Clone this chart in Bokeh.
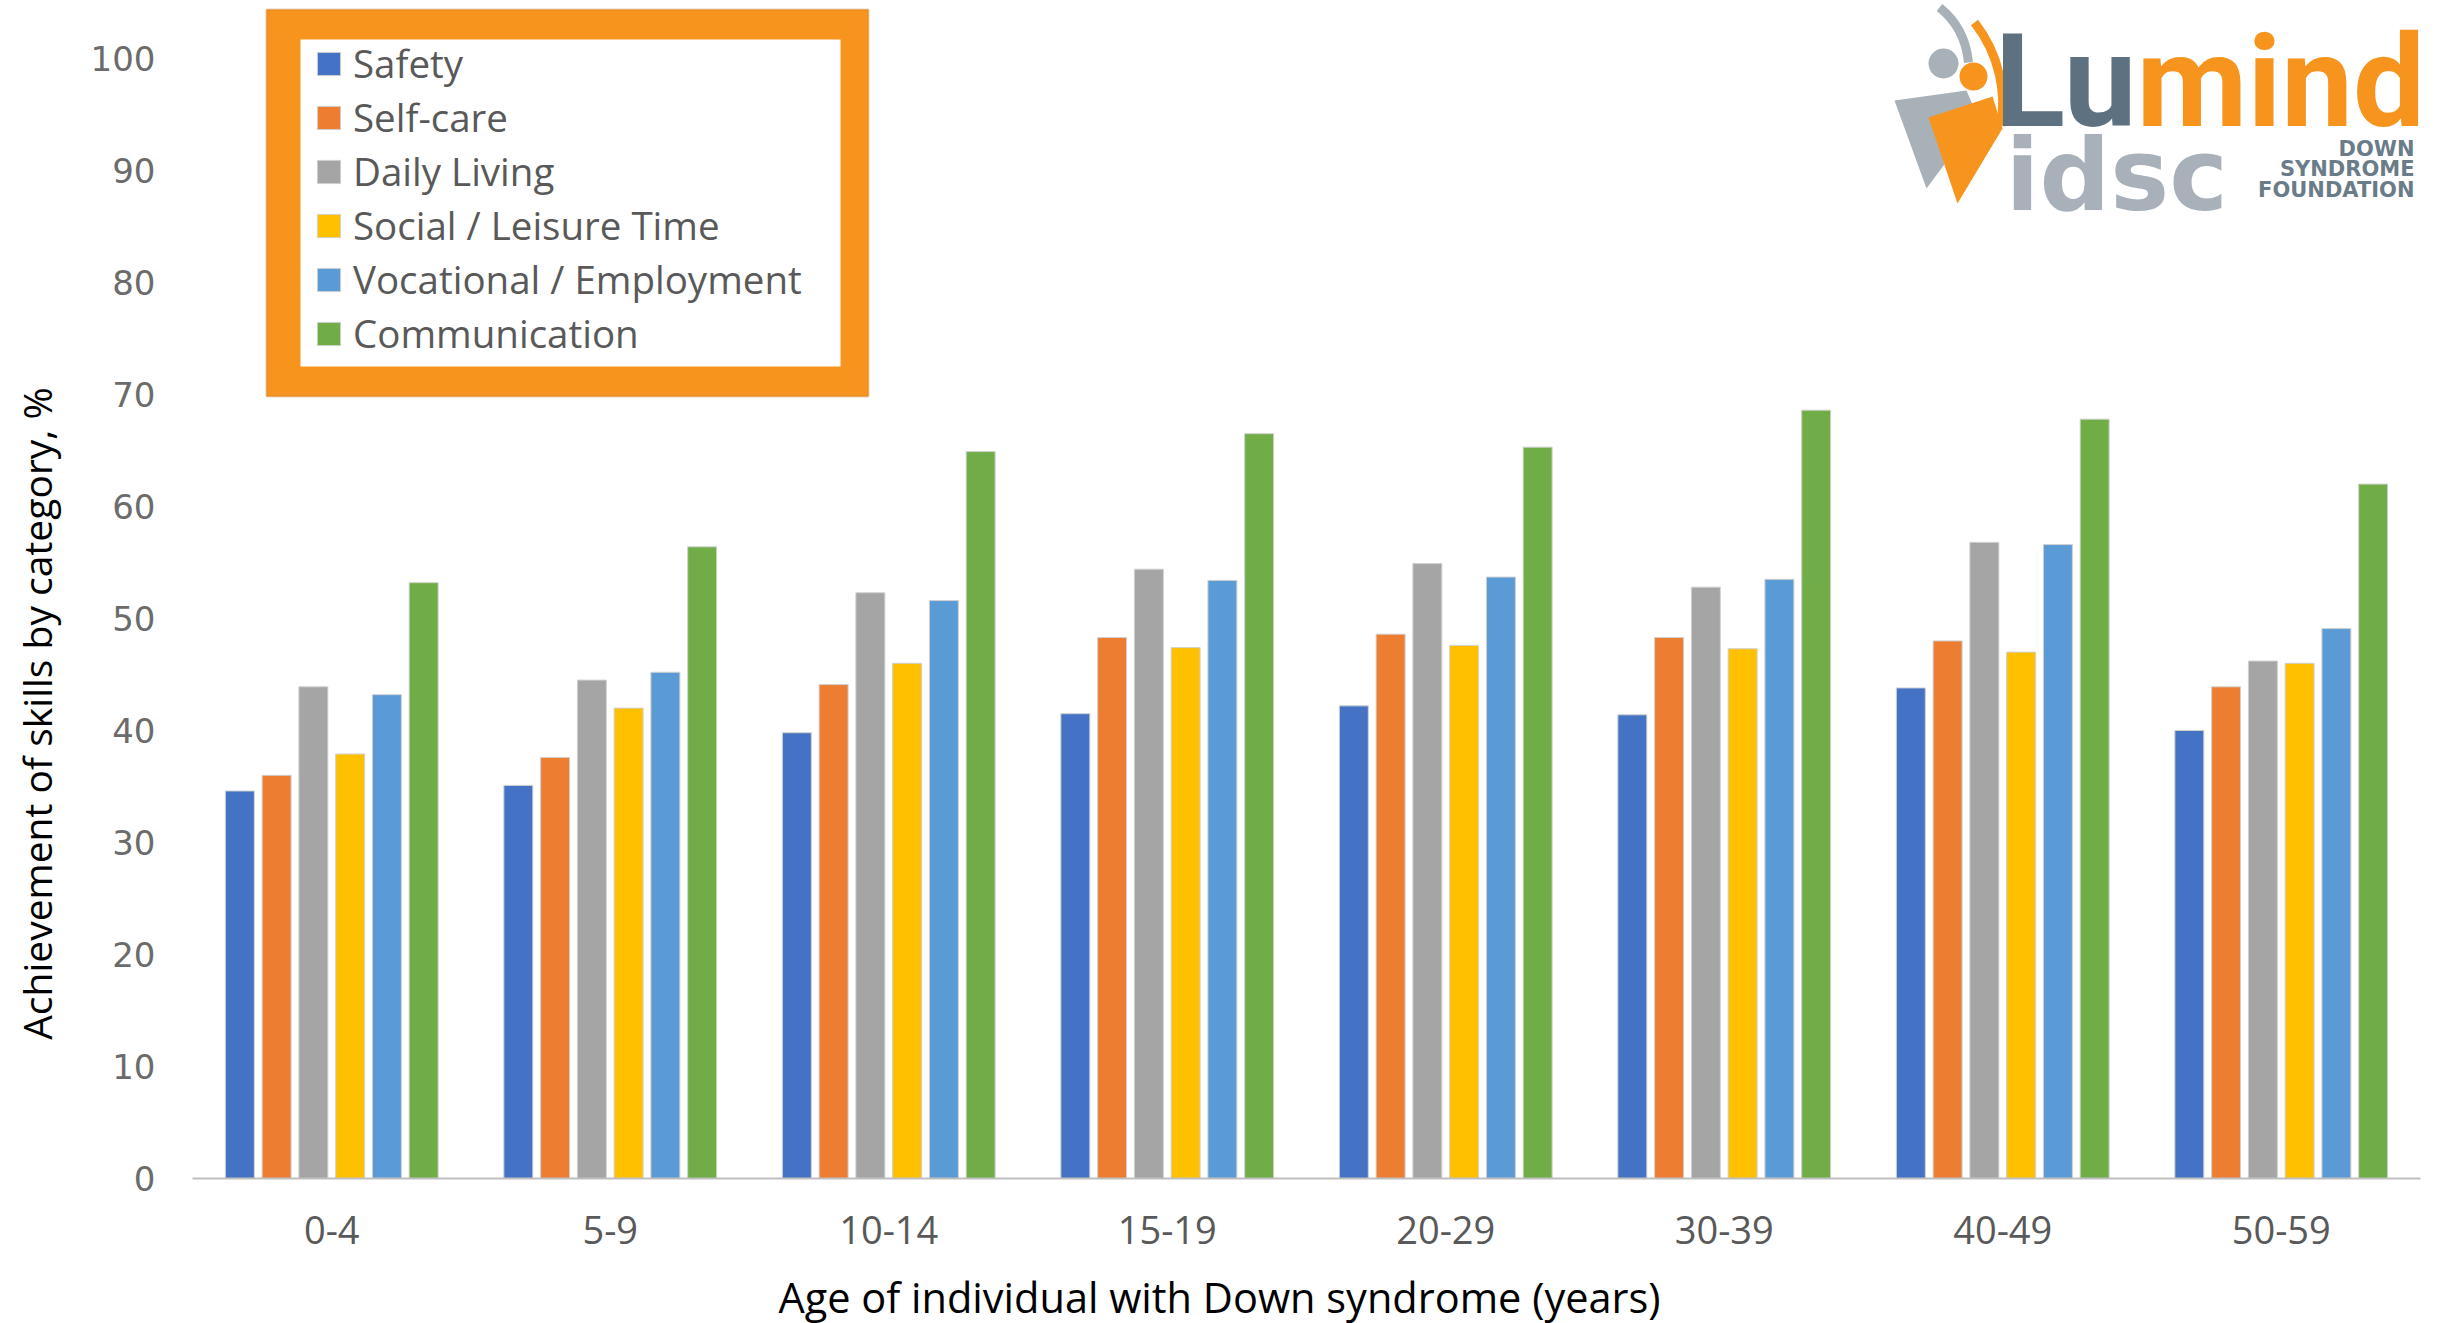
from bokeh.plotting import figure
from bokeh.models import (Range1d, Legend, LegendItem, FixedTicker,
                          BoxAnnotation, Label, ColumnDataSource)
from bokeh.embed import file_html
from bokeh.resources import INLINE
import math

# ---------------- data ----------------
ages = ["0-4", "5-9", "10-14", "15-19", "20-29", "30-39", "40-49", "50-59"]
series_names = ["Safety", "Self-care", "Daily Living", "Social / Leisure Time",
                "Vocational / Employment", "Communication"]
safety = [34.6, 35.1, 39.8, 41.5, 42.2, 41.4, 43.8, 40.0]
self_care = [36.0, 37.6, 44.1, 48.3, 48.6, 48.3, 48.0, 43.9]
daily_living = [43.9, 44.5, 52.3, 54.4, 54.9, 52.8, 56.8, 46.2]
social_leisure = [37.9, 42.0, 46.0, 47.4, 47.6, 47.3, 47.0, 46.0]
vocational = [43.2, 45.2, 51.6, 53.4, 53.7, 53.5, 56.6, 49.1]
communication = [53.2, 56.4, 64.9, 66.5, 65.3, 68.6, 67.8, 62.0]
y_ticks = [0, 10, 20, 30, 40, 50, 60, 70, 80, 90, 100]

series_values = [safety, self_care, daily_living, social_leisure, vocational, communication]
colors = ["#4472C4", "#ED7D31", "#A5A5A5", "#FFC000", "#5B9BD5", "#70AD47"]

# ---------------- layout (page pixels) ----------------
W, H = 2443, 1323
PAGE_DX, PAGE_DY = 0, 0          # where the figure's top-left lands on the page
AX_LEFT, AX_RIGHT = 192, 2420    # page x of the category axis extent
AX_ZERO = 1178                   # page y of value 0
PX_PER_UNIT = 11.2
CAT_W = (AX_RIGHT - AX_LEFT) / len(ages)


def fx(page_x):
    return (page_x - AX_LEFT) / CAT_W


def fy(page_y):
    return (AX_ZERO - page_y) / PX_PER_UNIT


x_range = Range1d(fx(PAGE_DX), fx(PAGE_DX + W))
y_range = Range1d(fy(PAGE_DY + H), fy(PAGE_DY))

p = figure(width=W, height=H, x_range=x_range, y_range=y_range,
           output_backend="svg", toolbar_location=None,
           min_border=0, min_border_left=0, min_border_right=0,
           min_border_top=0, min_border_bottom=0)
p.outline_line_color = None
p.xgrid.visible = False
p.ygrid.visible = False
p.background_fill_color = "white"
p.border_fill_color = "white"

# legend frame (orange box)
outer = BoxAnnotation(left=fx(266), right=fx(868), top=fy(9), bottom=fy(396),
                      fill_color="#F7941D", fill_alpha=1.0,
                      line_color="#B9650F", line_width=2, level="underlay")
inner = BoxAnnotation(left=fx(300), right=fx(840), top=fy(39), bottom=fy(366),
                      fill_color="white", fill_alpha=1.0, line_color=None,
                      level="underlay")
p.add_layout(outer)
p.add_layout(inner)

# bars (category k centred at k + 0.5)
bar_w = 0.104
pitch = 0.132
centers = [k + 0.5 for k in range(len(ages))]
renderers = []
for i, (name, vals, col) in enumerate(zip(series_names, series_values, colors)):
    src = ColumnDataSource(dict(x=[c + (i - 2.5) * pitch for c in centers], val=vals))
    r = p.vbar(x="x", top="val", width=bar_w, source=src, fill_color=col,
               line_color="#d0d0d0", line_width=1)
    renderers.append(r)

# axes
xa = p.xaxis[0]
xa.fixed_location = 0
xa.bounds = (0, len(ages))
xa.ticker = FixedTicker(ticks=centers)
xa.major_label_overrides = {c: a for c, a in zip(centers, ages)}
xa.axis_line_color = "#bfbfbf"
xa.axis_line_width = 2
xa.major_tick_line_color = None
xa.minor_tick_line_color = None
xa.major_label_text_font = "Open Sans"
xa.major_label_text_font_size = "38px"
xa.major_label_text_color = "#595959"
xa.major_label_standoff = 31

ya = p.yaxis[0]
ya.fixed_location = 0
ya.ticker = FixedTicker(ticks=y_ticks)
ya.axis_line_color = None
ya.major_tick_line_color = None
ya.minor_tick_line_color = None
ya.major_label_text_font = "DejaVu Sans"
ya.major_label_text_font_size = "34px"
ya.major_label_text_color = "#6b6b6b"
ya.major_label_standoff = 31

# axis titles
p.add_layout(Label(x=fx(1219), y=fy(1296), text="Age of individual with Down syndrome (years)",
                   text_align="center", text_baseline="middle", text_font="Open Sans",
                   text_font_size="41.5px", text_color="black"))
p.add_layout(Label(x=fx(36), y=fy(713), text="Achievement of skills by category, %",
                   angle=math.pi / 2, text_align="center", text_baseline="middle",
                   text_font="Open Sans", text_font_size="39px", text_color="black"))

legend = Legend(items=[LegendItem(label=n, renderers=[r]) for n, r in zip(series_names, renderers)],
                location=(314 - PAGE_DX, (PAGE_DY + H) - 360), padding=0, margin=0, spacing=0,
                glyph_width=29, glyph_height=29, label_height=54, label_standoff=10,
                label_text_font="Open Sans", label_text_font_size="38.5px",
                label_text_color="#595959", border_line_color=None,
                background_fill_alpha=0)
p.add_layout(legend)

# ---------------- logo (decoration) ----------------
# stylised figures
p.patch(x=[fx(v) for v in (1894, 1966, 1978, 1926)], y=[fy(v) for v in (100, 90, 118, 188)],
        fill_color="#A9B1B8", line_color=None)
p.bezier(x0=[fx(1939)], y0=[fy(7)], x1=[fx(1968)], y1=[fy(62)],
         cx0=[fx(1958)], cy0=[fy(22)], cx1=[fx(1966)], cy1=[fy(42)],
         line_color="#A9B1B8", line_width=9)
p.patch(x=[fx(v) for v in (1928, 1992, 2002, 1957)], y=[fy(v) for v in (117, 96, 128, 203)],
        fill_color="#F7941D", line_color=None)
p.bezier(x0=[fx(1974)], y0=[fy(22)], x1=[fx(2000)], y1=[fy(125)],
         cx0=[fx(2000)], cy0=[fy(55)], cx1=[fx(2006)], cy1=[fy(95)],
         line_color="#F7941D", line_width=9)
p.scatter(x=[fx(1943)], y=[fy(63)], size=30, marker="circle", fill_color="#A9B1B8", line_color=None)
p.scatter(x=[fx(1973)], y=[fy(76)], size=28, marker="circle", fill_color="#F7941D", line_color=None)
p.add_layout(Label(x=fx(2136), y=fy(81), text="Lu", text_align="right",
                   text_baseline="middle", text_font="Roboto", text_font_style="bold",
                   text_font_size="130px", text_color="#5E7180"))
p.add_layout(Label(x=fx(2136), y=fy(81), text="mind", text_align="left",
                   text_baseline="middle", text_font="Roboto", text_font_style="bold",
                   text_font_size="128px", text_color="#F7941D"))
p.add_layout(Label(x=fx(2005), y=fy(175), text="idsc", text_align="left",
                   text_baseline="middle", text_font="DejaVu Sans", text_font_style="bold",
                   text_font_size="99px", text_color="#A8B1B9"))
for txt, cy in [("DOWN", 148), ("SYNDROME", 168), ("FOUNDATION", 189)]:
    p.add_layout(Label(x=fx(2414), y=fy(cy), text=txt, text_align="right",
                       text_baseline="middle", text_font="DejaVu Sans",
                       text_font_style="bold", text_font_size="21px",
                       text_color="#6A7C88"))

open("out.html", "w").write(file_html(p, INLINE))
